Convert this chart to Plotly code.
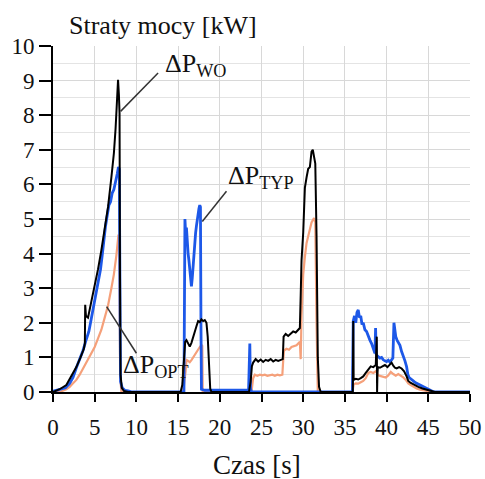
import plotly.graph_objects as go

# ---- data (time in s, power loss in kW) ----
t_wo = [0, 0.8, 1.6, 2.2, 2.8, 3.3, 3.7, 3.82, 3.86, 3.95, 4.2, 4.6, 5.0, 5.4, 5.8, 6.2, 6.6, 7.0, 7.3, 7.5, 7.65, 7.8, 7.9, 7.98, 8.03, 8.1, 8.25, 8.5, 9.0,
        15.3, 15.5, 15.7, 15.85, 16.0, 16.2, 16.4, 16.6, 16.8, 17.0, 17.2, 17.4, 17.6, 17.8, 18.0, 18.2, 18.4, 18.55, 18.7, 18.85, 19.0,
        23.5, 23.7, 23.85, 24.0, 24.3, 24.6, 24.9, 25.2, 25.5, 25.8, 26.1, 26.4, 26.7, 27.0, 27.3, 27.55, 27.65, 27.9, 28.2, 28.5, 28.8, 29.1, 29.4, 29.6, 29.7, 29.8, 30.0, 30.2, 30.4, 30.6, 30.8, 31.0, 31.15, 31.3, 31.45, 31.6, 31.75, 31.9, 32.1,
        35.85, 35.95, 36.0, 36.05, 36.3, 36.6, 36.9, 37.2, 37.5, 37.8, 38.1, 38.4, 38.7, 38.82, 38.86, 38.9, 38.95, 39.2, 39.5, 39.8, 40.1, 40.4, 40.6, 40.8, 41.0, 41.2, 41.5, 41.8, 42.1, 42.4, 42.6, 42.9, 43.3, 43.8, 44.3, 44.8, 45.3, 45.8, 50]
p_wo = [0, 0.08, 0.2, 0.45, 0.72, 1.0, 1.25, 1.4, 2.52, 2.2, 2.15, 2.62, 3.05, 3.55, 4.1, 4.7, 5.35, 6.2, 6.9, 7.6, 8.3, 9.02, 8.6, 8.05, 3.5, 0.5, 0.12, 0.03, 0,
        0, 0.2, 1.0, 1.45, 1.5, 1.38, 1.31, 1.42, 1.6, 1.72, 1.9, 2.05, 2.02, 2.1, 2.05, 2.08, 2.0, 1.6, 0.6, 0.1, 0,
        0, 0.3, 0.75, 0.85, 0.95, 0.88, 0.94, 0.87, 0.93, 0.9, 0.95, 0.88, 0.93, 0.9, 0.92, 0.95, 1.6, 1.68, 1.62, 1.7, 1.75, 1.72, 1.8, 1.85, 2.8, 3.8, 4.6, 5.9, 6.2, 6.45, 6.5, 6.95, 7.0, 6.8, 6.6, 4.5, 1.0, 0.15, 0,
        0, 0.02, 2.05, 0.35, 0.38, 0.36, 0.4, 0.45, 0.55, 0.66, 0.74, 0.72, 0.78, 1.6, 0.0, 0.5, 0.72, 0.7, 0.74, 0.78, 0.72, 0.8, 0.85, 0.76, 0.7, 0.68, 0.72, 0.68, 0.6, 0.45, 0.32, 0.26, 0.2, 0.15, 0.1, 0.06, 0.03, 0, 0]

t_typ = [0, 0.5, 1.0, 1.5, 2.0, 2.4, 2.8, 3.2, 3.6, 3.9, 4.1, 4.3, 4.5, 4.7, 4.9, 5.1, 5.3, 5.5, 5.7, 5.9, 6.1, 6.3, 6.5, 6.7, 6.9, 7.1, 7.3, 7.5, 7.7, 7.85, 7.95, 8.05, 8.1, 8.3, 8.6, 9.0, 9.5,
         15.7, 15.82, 15.9, 16.0, 16.1, 16.2, 16.3, 16.4, 16.5, 16.6, 16.7, 16.8, 16.9, 17.0, 17.1, 17.2, 17.3, 17.4, 17.5, 17.6, 17.68, 17.74, 17.8, 18.2,
         23.45, 23.6, 23.68, 23.8,
         35.9, 36.0, 36.15, 36.3, 36.45, 36.6, 36.75, 36.9, 37.05, 37.2, 37.4, 37.6, 37.8, 38.0, 38.2, 38.4, 38.6, 38.68, 38.75, 38.85, 39.0, 39.2, 39.4, 39.6, 39.8, 40.0, 40.2, 40.4, 40.6, 40.75, 40.88, 40.98, 41.1, 41.25, 41.4, 41.6, 41.8, 42.0, 42.2, 42.4, 42.55, 42.7, 43.0, 43.3, 43.6, 44.0, 44.4, 44.8, 45.2, 45.6, 50]
p_typ = [0.02, 0.05, 0.08, 0.12, 0.25, 0.42, 0.7, 0.95, 1.2, 1.45, 1.6, 1.75, 2.0, 2.25, 2.55, 2.8, 3.05, 3.3, 3.55, 3.95, 4.45, 4.8, 5.1, 5.4, 5.5, 5.75, 5.85, 6.05, 6.3, 6.5, 6.45, 2.0, 0.3, 0.12, 0.05, 0.03, 0,
         0, 5.0, 4.6, 4.75, 4.2, 4.0, 3.8, 3.5, 3.3, 3.05, 3.3, 3.7, 3.9, 4.3, 4.6, 4.8, 5.0, 5.1, 5.3, 5.4, 5.35, 2.0, 0.08, 0.05,
         0.05, 1.4, 0.1, 0,
         0, 2.05, 2.2, 2.0, 2.3, 2.37, 2.15, 2.2, 1.95, 2.0, 1.8, 1.75, 1.6, 1.5, 1.4, 1.25, 1.12, 1.85, 1.1, 1.05, 1.02, 0.98, 1.0, 0.93, 0.9, 0.88, 0.92, 0.86, 0.93, 0.98, 2.0, 1.75, 1.6, 1.5, 1.45, 1.35, 1.17, 1.05, 0.9, 0.73, 0.5, 0.42, 0.35, 0.3, 0.25, 0.2, 0.15, 0.1, 0.05, 0.01, 0]

t_opt = [0, 1.0, 1.6, 2.0, 2.4, 2.8, 3.2, 3.6, 3.9, 4.2, 4.6, 5.0, 5.4, 5.8, 6.2, 6.6, 7.0, 7.3, 7.6, 7.85, 7.95, 8.05, 8.2,
         15.6, 15.9, 16.0, 16.2, 16.4, 16.6, 16.8, 17.0, 17.2, 17.4, 17.6, 17.8, 17.9, 17.95,
         23.8, 24.0, 24.2, 24.5, 24.8, 25.1, 25.4, 25.7, 26.0, 26.3, 26.6, 26.9, 27.2, 27.5, 27.6, 27.7, 28.0, 28.3, 28.6, 28.9, 29.2, 29.6, 29.7, 29.8, 30.0, 30.2, 30.4, 30.6, 30.8, 31.0, 31.3, 31.45, 31.6, 31.75,
         35.9, 36.05, 36.3, 36.6, 36.9, 37.2, 37.5, 37.8, 38.1, 38.4, 38.7, 39.0, 39.3, 39.6, 39.9, 40.2, 40.5, 40.8, 41.1, 41.4, 41.7, 42.0, 42.3, 42.6, 42.9, 43.2, 43.6, 44.0, 44.5, 45.0, 45.5]
p_opt = [0, 0.02, 0.08, 0.15, 0.25, 0.35, 0.5, 0.68, 0.8, 0.95, 1.1, 1.3, 1.55, 1.8, 2.15, 2.5, 3.0, 3.4, 3.95, 4.55, 4.4, 0.5, 0,
         0, 0.6, 0.93, 0.9, 0.86, 0.92, 1.0, 1.08, 1.15, 1.25, 1.3, 1.36, 1.33, 0,
         0, 0.4, 0.5, 0.47, 0.5, 0.48, 0.5, 0.47, 0.49, 0.5, 0.47, 0.5, 0.48, 0.5, 0.9, 1.2, 1.25, 1.22, 1.3, 1.32, 1.35, 1.45, 0.95, 2.2, 3.4, 3.9, 4.3, 4.5, 4.7, 4.9, 5.03, 4.9, 2.0, 0,
         0, 0.22, 0.25, 0.24, 0.28, 0.32, 0.4, 0.55, 0.58, 0.55, 0.6, 0.48, 0.46, 0.44, 0.42, 0.48, 0.58, 0.52, 0.47, 0.52, 0.48, 0.42, 0.35, 0.25, 0.2, 0.15, 0.1, 0.07, 0.04, 0.02, 0]

x_tick_step = 5
y_tick_step = 1
y_minor_step = 0.5

BLACK = "#000000"
BLUE = "#1d58e8"
ORANGE = "#f5a07a"
FONT = "Liberation Serif"

fig = go.Figure()
fig.add_trace(go.Scatter(x=t_opt, y=p_opt, mode="lines", line=dict(color=ORANGE, width=2.2), name="OPT"))
fig.add_trace(go.Scatter(x=t_typ, y=p_typ, mode="lines", line=dict(color=BLUE, width=2.8), name="TYP"))
fig.add_trace(go.Scatter(x=t_wo, y=p_wo, mode="lines", line=dict(color=BLACK, width=2), name="WO"))

# leader lines
lead = dict(color="#333333", width=1.5)
fig.add_shape(type="line", xref="x", yref="y", x0=12.6, y0=9.22, x1=8.1, y1=8.11, line=lead)
fig.add_shape(type="line", xref="x", yref="y", x0=20.8, y0=5.8, x1=17.9, y1=4.93, line=lead)
fig.add_shape(type="line", xref="x", yref="y", x0=10.0, y0=1.12, x1=6.43, y1=2.47, line=lead)

ann_font = dict(family=FONT, size=26, color="#111111")
fig.add_annotation(x=13.2, y=9.45, xref="x", yref="y", text="ΔP<sub>WO</sub>", showarrow=False,
                   xanchor="left", yanchor="middle", font=ann_font)
fig.add_annotation(x=20.8, y=6.2, xref="x", yref="y", text="ΔP<sub>TYP</sub>", showarrow=False,
                   xanchor="left", yanchor="middle", font=ann_font)
fig.add_annotation(x=8.1, y=0.75, xref="x", yref="y", text="ΔP<sub>OPT</sub>", showarrow=False,
                   xanchor="left", yanchor="middle", font=ann_font)

# titles
fig.add_annotation(x=0.033, y=1.058, xref="paper", yref="paper", text="Straty mocy [kW]", showarrow=False,
                   xanchor="left", yanchor="middle", font=dict(family=FONT, size=26, color="#111111"))
fig.add_annotation(x=0.49, y=-0.211, xref="paper", yref="paper", text="Czas [s]", showarrow=False,
                   xanchor="center", yanchor="middle", font=dict(family=FONT, size=27, color="#111111"))

fig.update_layout(
    width=485, height=479,
    margin=dict(l=53, r=15, t=46, b=87, autoexpand=False),
    paper_bgcolor="white", plot_bgcolor="white",
    showlegend=False,
    font=dict(family=FONT, size=23, color="#111111"),
)
fig.update_xaxes(range=[0, 50], tick0=0, dtick=x_tick_step, automargin=False,
                 showline=True, linecolor="black", linewidth=2,
                 ticks="outside", ticklen=8, tickwidth=2, tickcolor="black",
                 showgrid=True, gridcolor="#d8d8d8", gridwidth=1, zeroline=False,
                 ticklabelstandoff=5, tickfont=dict(family=FONT, size=23))
fig.update_yaxes(range=[0, 10], tick0=0, dtick=y_tick_step, automargin=False,
                 showline=True, linecolor="black", linewidth=2,
                 ticks="outside", ticklen=12, tickwidth=2, tickcolor="black",
                 showgrid=True, gridcolor="#d8d8d8", gridwidth=1, zeroline=False,
                 minor=dict(dtick=y_minor_step, showgrid=True, gridcolor="#e4e4e4", gridwidth=1, ticks=""),
                 tickfont=dict(family=FONT, size=23))

fig.write_html("out.html", config={"displayModeBar": False},
               post_script="document.body.style.margin='0';")
